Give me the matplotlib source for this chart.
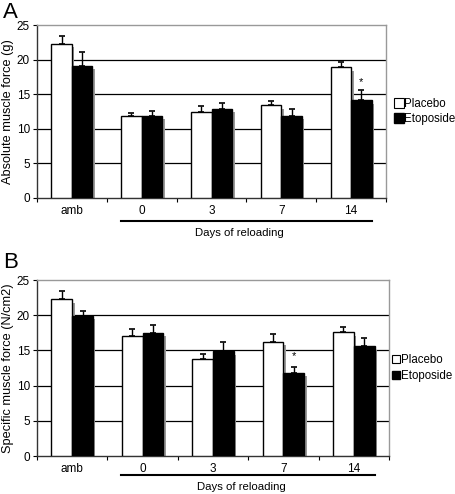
import matplotlib
matplotlib.use("Agg")
import matplotlib.pyplot as plt
from matplotlib.lines import Line2D
import numpy as np

plt.rcParams['font.family'] = ['Liberation Sans', 'DejaVu Sans']

groups = ["amb", "0", "3", "7", "14"]
series = ["Placebo", "Etoposide"]

absA_placebo = [22.3, 11.8, 12.4, 13.4, 18.9]
absA_placebo_err = [1.1, 0.5, 0.9, 0.6, 0.7]
absA_etop = [19.1, 11.9, 12.9, 11.9, 14.1]
absA_etop_err = [2.0, 0.7, 0.9, 1.0, 1.5]
absA_star = [None, None, None, None, 16.8]

specB_placebo = [22.3, 17.0, 13.8, 16.2, 17.6]
specB_placebo_err = [1.2, 1.0, 0.7, 1.1, 0.7]
specB_etop = [19.9, 17.5, 14.9, 11.8, 15.6]
specB_etop_err = [0.7, 1.1, 1.3, 0.9, 1.1]
specB_star = [None, None, None, 14.2, None]

W, H = 456, 494
fig = plt.figure(figsize=(W / 100, H / 100), dpi=100)

def panel(left, top, right, bottom, pv, pe, ev, ee, stars, ylabel, letter, letter_y,
          legend_small, under_px, text_px):
    hpx = bottom - top
    ax = fig.add_axes([left / W, 1 - bottom / H, (right - left) / W, hpx / H])
    x = np.arange(len(groups)) + 0.5
    w = 0.295
    xp = x - w / 2
    xe = x + w / 2
    ax.bar(xp + 0.035, np.array(pv) - 0.25, w, bottom=-0.25, color='#999999', zorder=2, linewidth=0)
    ax.bar(xe + 0.035, np.array(ev) - 0.25, w, bottom=-0.25, color='#999999', zorder=2, linewidth=0)
    ax.bar(xp, pv, w, color='white', edgecolor='black', linewidth=1.0, zorder=3)
    ax.bar(xe, ev, w, color='black', edgecolor='black', linewidth=1.0, zorder=3)
    ax.errorbar(xp, pv, yerr=[np.zeros(len(pv)), pe], fmt='none', ecolor='black',
                elinewidth=1.0, capsize=2.5, capthick=1.2, zorder=4)
    ax.errorbar(xe, ev, yerr=[np.zeros(len(ev)), ee], fmt='none', ecolor='black',
                elinewidth=1.0, capsize=2.5, capthick=1.2, zorder=4)
    for xi, s in zip(xe, stars):
        if s is not None:
            ax.text(xi, s, "*", ha='center', va='center', fontsize=8, zorder=5)
    ax.set_xlim(0, 5)
    ax.set_ylim(0, 25)
    ax.set_yticks([0, 5, 10, 15, 20, 25])
    ax.tick_params(axis='y', labelsize=8.5, length=3, width=0.8, pad=2)
    for g in [5, 10, 15, 20]:
        ax.axhline(g, color='black', linewidth=0.9, zorder=1)
    ax.set_xticks(x)
    ax.set_xticklabels(groups)
    ax.tick_params(axis='x', which='major', length=0, labelsize=8.5, pad=5)
    ax.set_xticks(np.arange(0, 6), minor=True)
    ax.tick_params(axis='x', which='minor', length=3, width=0.8, direction='out')
    for sp in ['top', 'right']:
        ax.spines[sp].set_color('#999999')
        ax.spines[sp].set_linewidth(1.0)
    for sp in ['left', 'bottom']:
        ax.spines[sp].set_color('#333333')
        ax.spines[sp].set_linewidth(1.0)
    ax.set_ylabel(ylabel, fontsize=9.2, labelpad=2)
    uy = -under_px / hpx
    ty = -text_px / hpx
    ax.add_line(Line2D([1.2, 4.8], [uy, uy], transform=ax.get_xaxis_transform(),
                       color='black', linewidth=1.5, clip_on=False))
    ax.text(2.9, ty, "Days of reloading", transform=ax.get_xaxis_transform(),
            ha='center', va='center', fontsize=8.2)
    fig.text(0.006, letter_y, letter, fontsize=16, ha='left', va='center')
    ms = 7.5 if not legend_small else 5.5
    handles = [Line2D([], [], marker='s', linestyle='none', markerfacecolor='white',
                      markeredgecolor='black', markersize=ms, markeredgewidth=0.8),
               Line2D([], [], marker='s', linestyle='none', markerfacecolor='black',
                      markeredgecolor='black', markersize=ms)]
    ax.legend(handles, series, loc='center left', bbox_to_anchor=(1.0, 0.5), frameon=False,
              fontsize=8.3, handlelength=0.6, handletextpad=0.12, labelspacing=0.3,
              borderaxespad=0.15 if legend_small else 0.6, borderpad=0.2)
    return ax

panel(37, 25, 386, 198,
      absA_placebo, absA_placebo_err, absA_etop, absA_etop_err, absA_star,
      "Absolute muscle force (g)", "A", 1 - 13 / H, False, 23, 35)
panel(37, 280, 389, 456,
      specB_placebo, specB_placebo_err, specB_etop, specB_etop_err, specB_star,
      "Specific muscle force (N/cm2)", "B", 1 - 263 / H, True, 19, 31)

fig.savefig("out.png", dpi=100)
